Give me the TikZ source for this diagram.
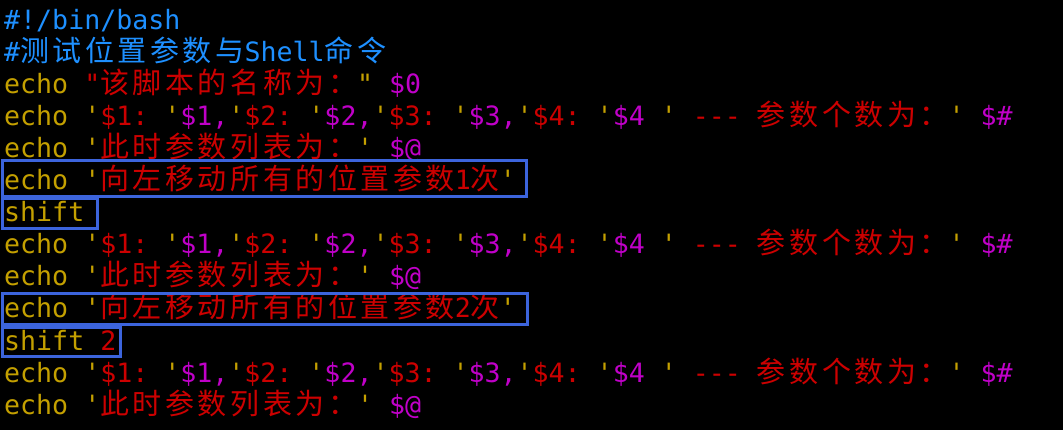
\documentclass[tikz,border=0pt]{standalone}
\usepackage{xcolor}
\usepackage{fontspec}
\setmonofont{DejaVu Sans Mono}
\newfontfamily\cjkfont[Scale=1.09,LetterSpace=12.3]{Noto Sans CJK SC}
\usepackage{tikz}
\definecolor{bg}{HTML}{000000}
\definecolor{cmtblue}{HTML}{1E90FF}
\definecolor{kw}{HTML}{C4A000}
\definecolor{str}{HTML}{CC0000}
\definecolor{var}{HTML}{C000C8}
\definecolor{markblue}{HTML}{3C64DC}
\newcommand\ky[1]{\textcolor{kw}{#1}}
\newcommand\sq[1]{\textcolor{str}{#1}}
\newcommand\vr[1]{\textcolor{var}{#1}}
\newcommand\cj[1]{{\cjkfont #1}}
\tikzset{
  cline/.style={anchor=base west, inner sep=0pt, text=kw, font=\ttfamily\fontsize{26.6}{32}\selectfont},
  cmtline/.style={cline, text=cmtblue},
  boxmark/.style={draw=markblue, line width=3pt},
}
\frenchspacing
\begin{document}
\begin{tikzpicture}[x=1pt, y=-1pt]
  \fill[bg] (0,0) rectangle (1063,430);
  \useasboundingbox (0,0) rectangle (1063,430);

  \node[cmtline] (l1) at (4,30) {\#!/bin/bash};
  \node[cmtline] (l2) at (4,62) {\#\cj{测试位置参数与}Shell\cj{命令}};
  \node[cline] (l3) at (4,94) {\ky{echo} \sq{"\cj{该脚本的名称为：}}\ky{"} \vr{\$0}};
  \node[cline] (l4) at (4,126) {\ky{echo} \ky{'}\sq{\$1:\ }\ky{'}\vr{\$1,}\ky{'}\sq{\$2:\ }\ky{'}\vr{\$2,}\ky{'}\sq{\$3:\ }\ky{'}\vr{\$3,}\ky{'}\sq{\$4:\ }\ky{'}\vr{\$4} \ky{'}\sq{\ ---\ \cj{参数个数为：}}\ky{'} \vr{\$\#}};
  \node[cline] (l5) at (4,158) {\ky{echo} \ky{'}\sq{\cj{此时参数列表为：}}\ky{'} \vr{\$@}};
  \node[cline] (l6) at (4,190) {\ky{echo} \ky{'}\sq{\cj{向左移动所有的位置参数}1\cj{次}}\ky{'}};
  \node[cline] (l7) at (4,222) {shift};
  \node[cline] (l8) at (4,254) {\ky{echo} \ky{'}\sq{\$1:\ }\ky{'}\vr{\$1,}\ky{'}\sq{\$2:\ }\ky{'}\vr{\$2,}\ky{'}\sq{\$3:\ }\ky{'}\vr{\$3,}\ky{'}\sq{\$4:\ }\ky{'}\vr{\$4} \ky{'}\sq{\ ---\ \cj{参数个数为：}}\ky{'} \vr{\$\#}};
  \node[cline] (l9) at (4,286) {\ky{echo} \ky{'}\sq{\cj{此时参数列表为：}}\ky{'} \vr{\$@}};
  \node[cline] (l10) at (4,318) {\ky{echo} \ky{'}\sq{\cj{向左移动所有的位置参数}2\cj{次}}\ky{'}};
  \node[cline] (l11) at (4,350) {shift \sq{2}};
  \node[cline] (l12) at (4,382) {\ky{echo} \ky{'}\sq{\$1:\ }\ky{'}\vr{\$1,}\ky{'}\sq{\$2:\ }\ky{'}\vr{\$2,}\ky{'}\sq{\$3:\ }\ky{'}\vr{\$3,}\ky{'}\sq{\$4:\ }\ky{'}\vr{\$4} \ky{'}\sq{\ ---\ \cj{参数个数为：}}\ky{'} \vr{\$\#}};
  \node[cline] (l13) at (4,414) {\ky{echo} \ky{'}\sq{\cj{此时参数列表为：}}\ky{'} \vr{\$@}};

  % highlight frames
  \draw[boxmark] (2.5,160.5) rectangle (526.5,196.5);
  \draw[boxmark] (2.5,199) rectangle (97.5,228.5);
  \draw[boxmark] (2.5,293.5) rectangle (527.5,324.5);
  \draw[boxmark] (2.5,328) rectangle (120.5,356.5);
\end{tikzpicture}
\end{document}
